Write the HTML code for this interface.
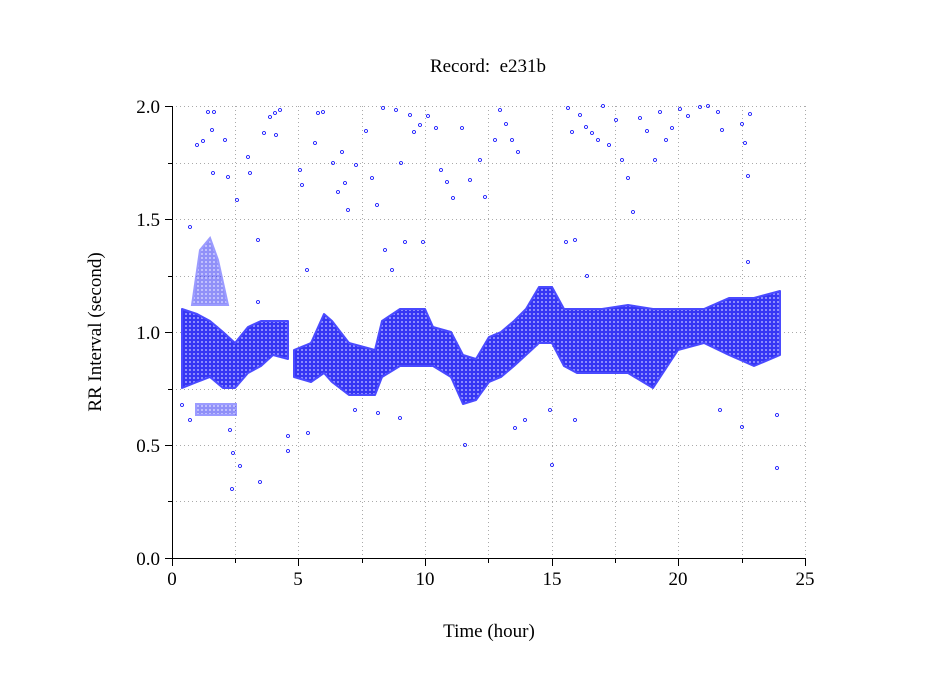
<!DOCTYPE html>
<html><head><meta charset="utf-8"><style>
html,body{margin:0;padding:0;background:#fff;}
svg{display:block;font-family:"Liberation Serif",serif;}
</style></head><body>
<svg width="949" height="697" xmlns="http://www.w3.org/2000/svg">
<defs>
<pattern id="p" width="4" height="4" patternUnits="userSpaceOnUse">
<rect width="4" height="4" fill="#3636f4"/>
<circle cx="2" cy="2" r="1" fill="#a8a8ff"/>
</pattern>
</defs>
<rect width="949" height="697" fill="#fff"/>
<g stroke="#aaa" stroke-dasharray="1,3" stroke-width="1">
<line x1="172" x2="805" y1="106.5" y2="106.5"/><line x1="172" x2="805" y1="163.5" y2="163.5"/>
<line x1="172" x2="805" y1="219.5" y2="219.5"/><line x1="172" x2="805" y1="276.5" y2="276.5"/>
<line x1="172" x2="805" y1="332.5" y2="332.5"/><line x1="172" x2="805" y1="389.5" y2="389.5"/>
<line x1="172" x2="805" y1="445.5" y2="445.5"/><line x1="172" x2="805" y1="501.5" y2="501.5"/>
<line y1="106" y2="558" x1="235.5" x2="235.5"/><line y1="106" y2="558" x1="298.5" x2="298.5"/>
<line y1="106" y2="558" x1="362.5" x2="362.5"/><line y1="106" y2="558" x1="425.5" x2="425.5"/>
<line y1="106" y2="558" x1="488.5" x2="488.5"/><line y1="106" y2="558" x1="552.5" x2="552.5"/>
<line y1="106" y2="558" x1="615.5" x2="615.5"/><line y1="106" y2="558" x1="678.5" x2="678.5"/>
<line y1="106" y2="558" x1="742.5" x2="742.5"/><line y1="106" y2="558" x1="805.5" x2="805.5"/>
</g>
<g fill="url(#p)" stroke="#4a4aff" stroke-width="2" stroke-linejoin="round">
<polygon points="182,309 197,314 210,321 223,332 235,343 248,327 261,321 273,321 288,321 288,359 273,355 261,366 248,373 235,388 223,388 210,377 197,382 182,388"/>
<polygon points="294,350 311,343 324,314 332,321 349,343 375,350 382,321 400,309 425,309 433,327 451,332 463,355 476,359 489,337 501,332 514,321 526,309 539,287 552,287 564,309 577,309 602,309 628,305 653,309 678,309 704,309 729,298 754,298 780,291 780,355 754,366 729,355 704,343 678,350 653,388 628,373 602,373 577,373 564,366 552,343 539,343 526,355 514,366 501,377 489,382 476,400 463,404 451,377 433,366 425,366 400,366 382,377 375,395 349,395 332,382 324,373 311,382 294,377"/>
</g>
<g fill="url(#p)" stroke="#4a4aff" stroke-width="2" opacity="0.55">
<rect x="196" y="404" width="40" height="11"/>
<polygon points="192,305 200,250 210,238 218,260 228,305"/>
</g>
<g fill="none" stroke="#0000ff" stroke-width="0.8">
<circle cx="190" cy="227" r="1.5"/><circle cx="197" cy="145" r="1.5"/><circle cx="203" cy="141" r="1.5"/><circle cx="208" cy="112" r="1.5"/><circle cx="214" cy="112" r="1.5"/><circle cx="212" cy="130" r="1.5"/><circle cx="213" cy="173" r="1.5"/><circle cx="225" cy="140" r="1.5"/><circle cx="228" cy="177" r="1.5"/><circle cx="237" cy="200" r="1.5"/><circle cx="248" cy="157" r="1.5"/><circle cx="250" cy="173" r="1.5"/><circle cx="258" cy="240" r="1.5"/><circle cx="264" cy="133" r="1.5"/><circle cx="270" cy="117" r="1.5"/><circle cx="275" cy="113" r="1.5"/><circle cx="280" cy="110" r="1.5"/><circle cx="276" cy="135" r="1.5"/>
<circle cx="300" cy="170" r="1.5"/><circle cx="302" cy="185" r="1.5"/><circle cx="318" cy="113" r="1.5"/><circle cx="323" cy="112" r="1.5"/><circle cx="315" cy="143" r="1.5"/><circle cx="333" cy="163" r="1.5"/><circle cx="342" cy="152" r="1.5"/><circle cx="338" cy="192" r="1.5"/><circle cx="345" cy="183" r="1.5"/><circle cx="348" cy="210" r="1.5"/><circle cx="356" cy="165" r="1.5"/><circle cx="366" cy="131" r="1.5"/><circle cx="372" cy="178" r="1.5"/><circle cx="377" cy="205" r="1.5"/><circle cx="383" cy="108" r="1.5"/><circle cx="396" cy="110" r="1.5"/><circle cx="401" cy="163" r="1.5"/><circle cx="410" cy="115" r="1.5"/><circle cx="414" cy="132" r="1.5"/><circle cx="420" cy="125" r="1.5"/><circle cx="428" cy="116" r="1.5"/><circle cx="436" cy="128" r="1.5"/><circle cx="441" cy="170" r="1.5"/><circle cx="447" cy="182" r="1.5"/><circle cx="453" cy="198" r="1.5"/><circle cx="462" cy="128" r="1.5"/><circle cx="470" cy="180" r="1.5"/><circle cx="480" cy="160" r="1.5"/><circle cx="485" cy="197" r="1.5"/><circle cx="495" cy="140" r="1.5"/><circle cx="500" cy="110" r="1.5"/><circle cx="506" cy="124" r="1.5"/><circle cx="512" cy="140" r="1.5"/><circle cx="518" cy="152" r="1.5"/>
<circle cx="568" cy="108" r="1.5"/><circle cx="572" cy="132" r="1.5"/><circle cx="580" cy="115" r="1.5"/><circle cx="586" cy="127" r="1.5"/><circle cx="592" cy="133" r="1.5"/><circle cx="598" cy="140" r="1.5"/><circle cx="603" cy="106" r="1.5"/><circle cx="609" cy="145" r="1.5"/><circle cx="616" cy="120" r="1.5"/><circle cx="622" cy="160" r="1.5"/><circle cx="628" cy="178" r="1.5"/><circle cx="633" cy="212" r="1.5"/><circle cx="640" cy="118" r="1.5"/><circle cx="647" cy="131" r="1.5"/><circle cx="655" cy="160" r="1.5"/><circle cx="660" cy="112" r="1.5"/><circle cx="666" cy="140" r="1.5"/><circle cx="672" cy="128" r="1.5"/><circle cx="680" cy="109" r="1.5"/><circle cx="688" cy="116" r="1.5"/><circle cx="700" cy="107" r="1.5"/><circle cx="708" cy="106" r="1.5"/><circle cx="718" cy="112" r="1.5"/><circle cx="722" cy="130" r="1.5"/><circle cx="742" cy="124" r="1.5"/><circle cx="745" cy="143" r="1.5"/><circle cx="748" cy="176" r="1.5"/><circle cx="750" cy="114" r="1.5"/>
<circle cx="182" cy="405" r="1.5"/><circle cx="190" cy="420" r="1.5"/><circle cx="230" cy="430" r="1.5"/><circle cx="233" cy="453" r="1.5"/><circle cx="240" cy="466" r="1.5"/><circle cx="232" cy="489" r="1.5"/><circle cx="260" cy="482" r="1.5"/><circle cx="288" cy="436" r="1.5"/><circle cx="288" cy="451" r="1.5"/><circle cx="308" cy="433" r="1.5"/><circle cx="355" cy="410" r="1.5"/><circle cx="378" cy="413" r="1.5"/><circle cx="400" cy="418" r="1.5"/><circle cx="465" cy="445" r="1.5"/><circle cx="515" cy="428" r="1.5"/><circle cx="525" cy="420" r="1.5"/><circle cx="550" cy="410" r="1.5"/><circle cx="552" cy="465" r="1.5"/><circle cx="575" cy="420" r="1.5"/><circle cx="720" cy="410" r="1.5"/><circle cx="742" cy="427" r="1.5"/><circle cx="777" cy="415" r="1.5"/><circle cx="777" cy="468" r="1.5"/>
<circle cx="385" cy="250" r="1.5"/><circle cx="405" cy="242" r="1.5"/><circle cx="423" cy="242" r="1.5"/><circle cx="392" cy="270" r="1.5"/><circle cx="566" cy="242" r="1.5"/><circle cx="575" cy="240" r="1.5"/><circle cx="587" cy="276" r="1.5"/><circle cx="748" cy="262" r="1.5"/><circle cx="258" cy="302" r="1.5"/><circle cx="307" cy="270" r="1.5"/>
</g>
<g stroke="#000" stroke-width="1">
<line x1="172.5" y1="106" x2="172.5" y2="558"/><line x1="172" y1="558.5" x2="806" y2="558.5"/>
<line x1="165" x2="172" y1="106.5" y2="106.5"/><line x1="168" x2="172" y1="163.5" y2="163.5"/>
<line x1="165" x2="172" y1="219.5" y2="219.5"/><line x1="168" x2="172" y1="276.5" y2="276.5"/>
<line x1="165" x2="172" y1="332.5" y2="332.5"/><line x1="168" x2="172" y1="389.5" y2="389.5"/>
<line x1="165" x2="172" y1="445.5" y2="445.5"/><line x1="168" x2="172" y1="501.5" y2="501.5"/>
<line x1="165" x2="172" y1="558.5" y2="558.5"/>
<line y1="558" y2="566" x1="172.5" x2="172.5"/><line y1="558" y2="563" x1="235.5" x2="235.5"/>
<line y1="558" y2="566" x1="298.5" x2="298.5"/><line y1="558" y2="563" x1="362.5" x2="362.5"/>
<line y1="558" y2="566" x1="425.5" x2="425.5"/><line y1="558" y2="563" x1="488.5" x2="488.5"/>
<line y1="558" y2="566" x1="552.5" x2="552.5"/><line y1="558" y2="563" x1="615.5" x2="615.5"/>
<line y1="558" y2="566" x1="678.5" x2="678.5"/><line y1="558" y2="563" x1="742.5" x2="742.5"/>
<line y1="558" y2="566" x1="805.5" x2="805.5"/>
</g>
<g font-size="19" fill="#000">
<text x="488" y="72" text-anchor="middle" xml:space="preserve">Record:  e231b</text>
<text x="489" y="637" text-anchor="middle">Time (hour)</text>
<text transform="translate(101,332) rotate(-90)" text-anchor="middle">RR Interval (second)</text>
<g text-anchor="end"><text x="160" y="113">2.0</text><text x="160" y="226">1.5</text><text x="160" y="339">1.0</text><text x="160" y="452">0.5</text><text x="160" y="565">0.0</text></g>
<g text-anchor="middle"><text x="172" y="585">0</text><text x="298" y="585">5</text><text x="425" y="585">10</text><text x="552" y="585">15</text><text x="678" y="585">20</text><text x="805" y="585">25</text></g>
</g>
</svg>
</body></html>
